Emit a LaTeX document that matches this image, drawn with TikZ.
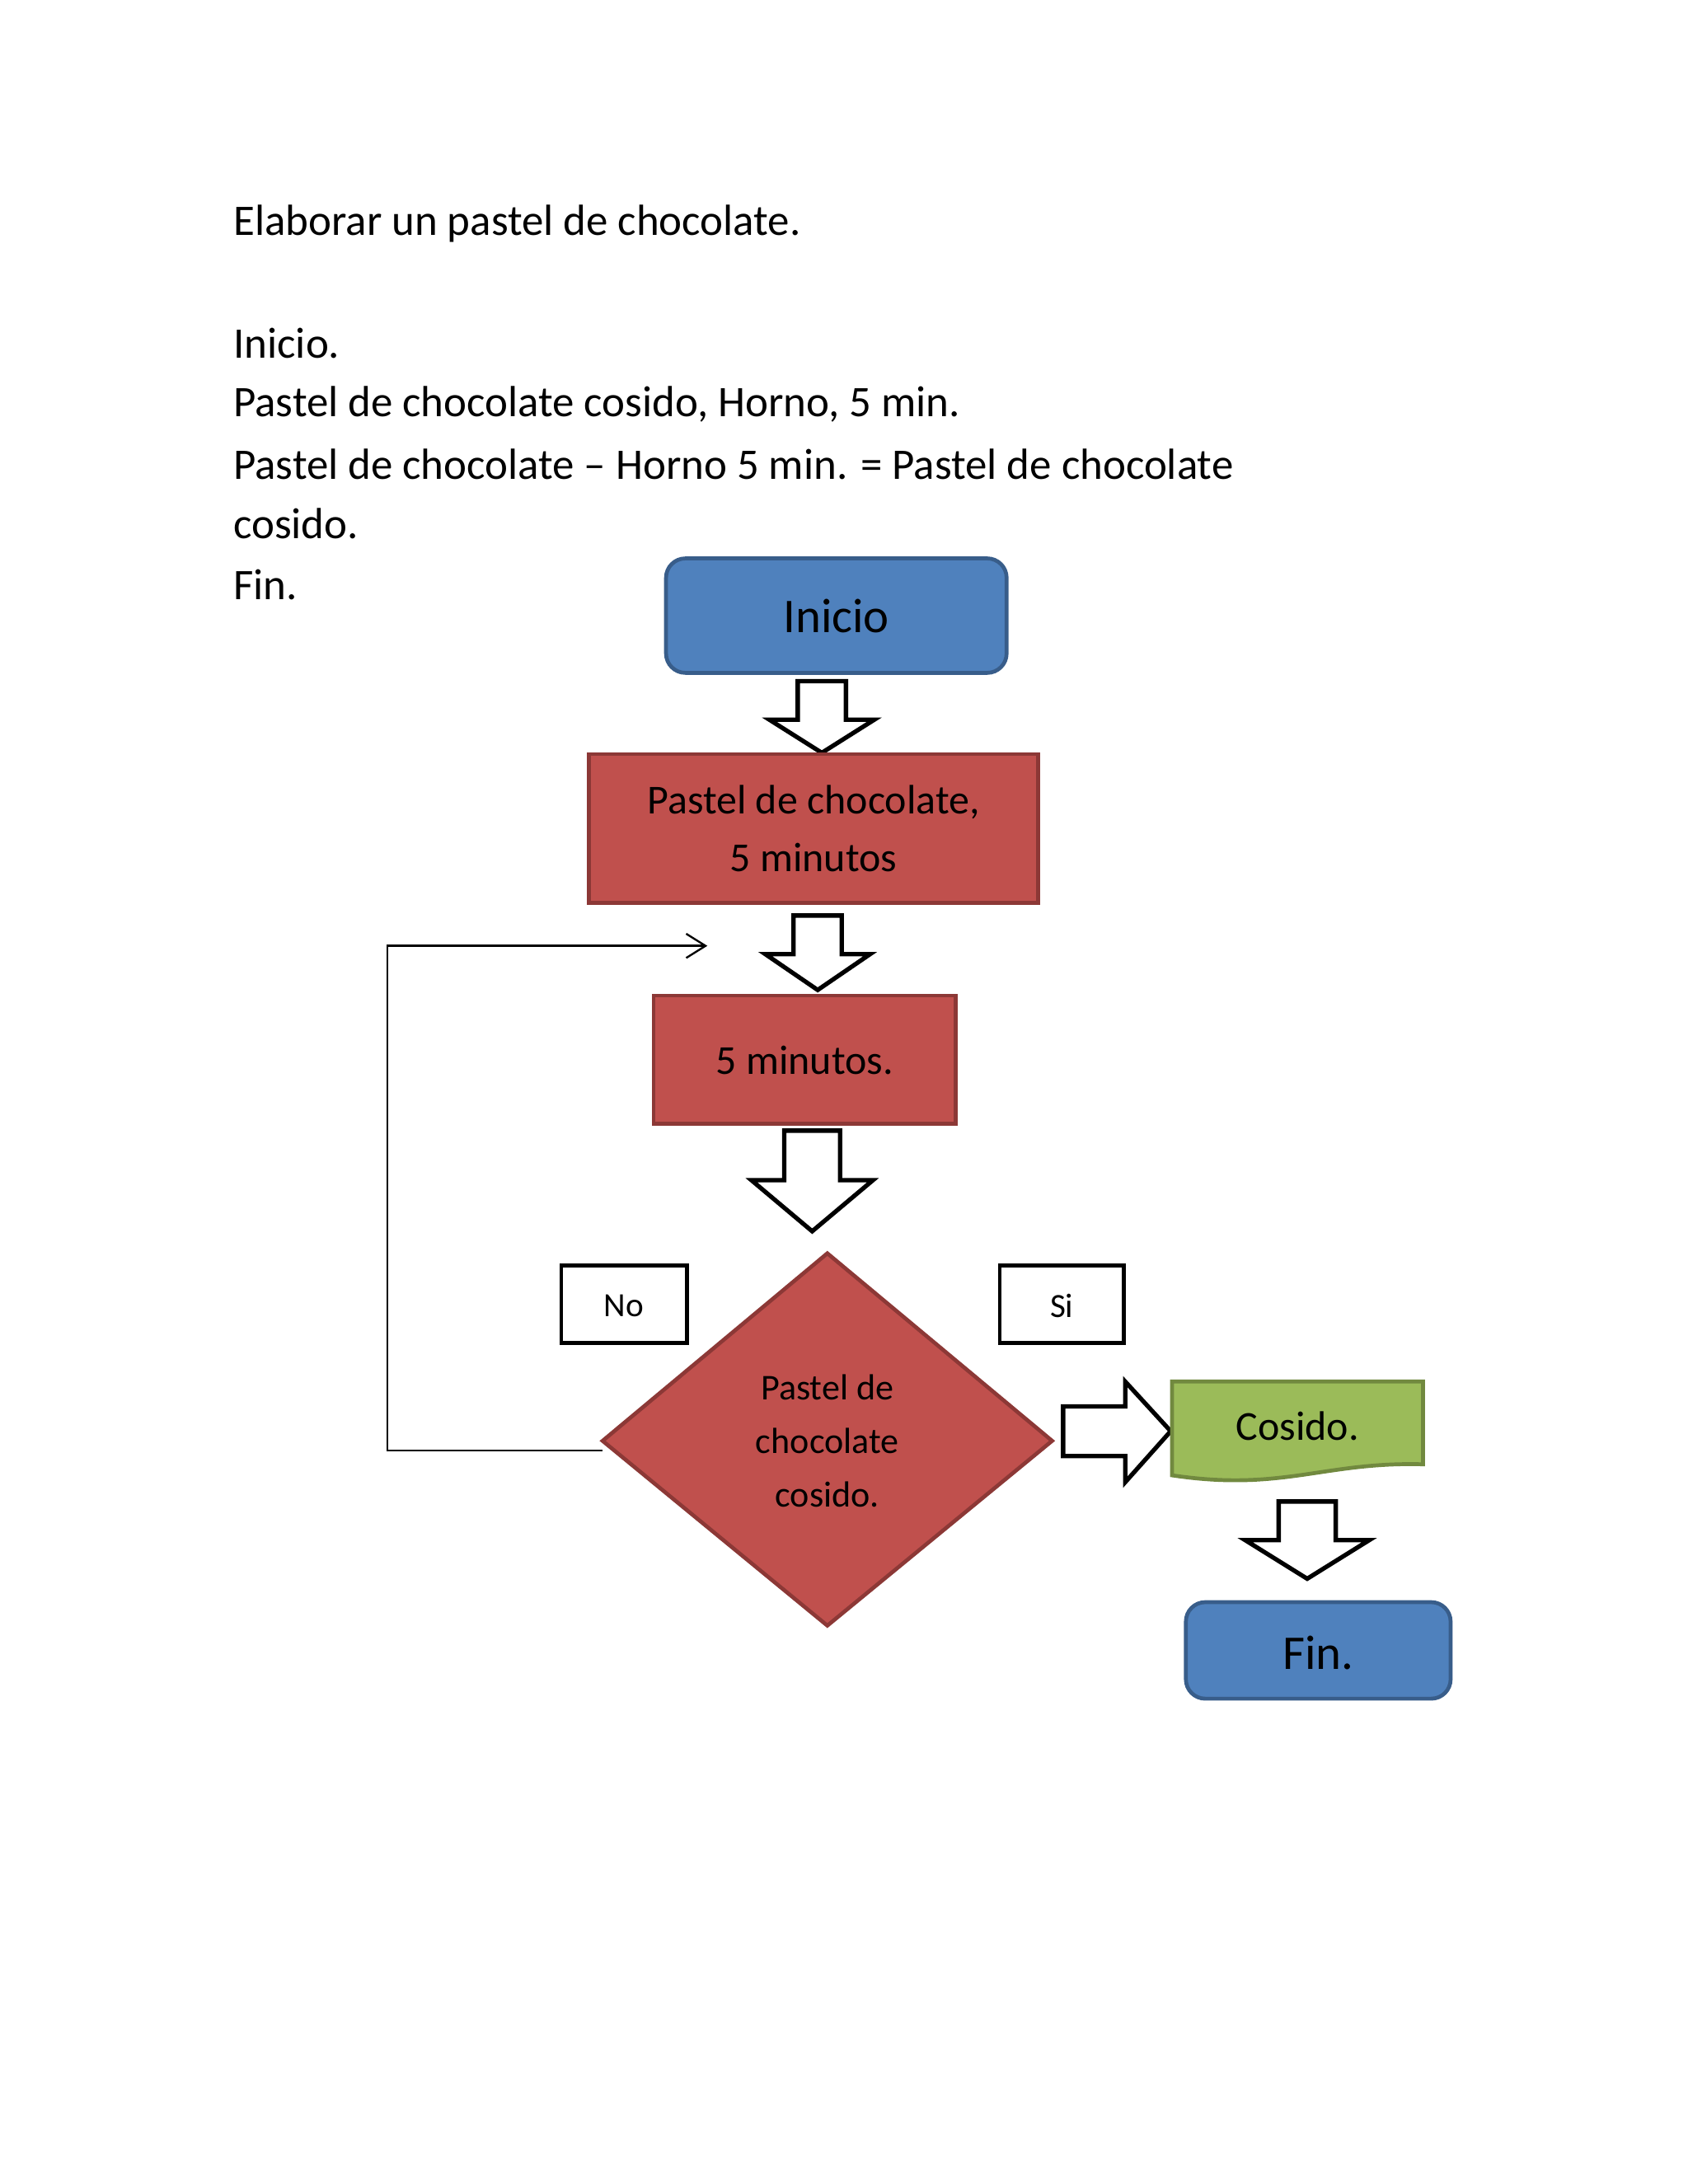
\documentclass[tikz,border=0pt]{standalone}
\usepackage{fontspec}
\setmainfont{Carlito}
\usetikzlibrary{arrows.meta}
\definecolor{bl}{HTML}{4F81BD}\definecolor{blb}{HTML}{385D8A}
\definecolor{rd}{HTML}{C0504D}\definecolor{rdb}{HTML}{8C3836}
\definecolor{gr}{HTML}{9BBB59}\definecolor{grb}{HTML}{71893F}
\tikzset{
 txt/.style={anchor=west,inner sep=0pt,font=\fontsize{18}{22}\selectfont},
 term/.style={draw=blb,fill=bl,line width=1.6pt,rounded corners=8pt},
 proc/.style={draw=rdb,fill=rd,line width=1.6pt},
 blk/.style={draw=black,fill=white,line width=1.8pt,line join=miter},
 lab/.style={draw=black,line width=1.6pt,inner sep=0pt}
}
\newcommand\dnarrow[5]{% x1 x2 ytop yneck ytip
 \draw[blk] ({#1+(#2-#1)*0.27},#3) -- ({#1+(#2-#1)*0.73},#3) -- ({#1+(#2-#1)*0.73},#4) -- (#2,#4) -- ({(#1+#2)/2},#5) -- (#1,#4) -- ({#1+(#2-#1)*0.27},#4) -- cycle;}
\begin{document}
\begin{tikzpicture}[x=0.02cm,y=-0.02cm]
\useasboundingbox[fill=white] (0,0) rectangle (1224,1584);
\node[txt] (t1) at (169,162) {Elaborar un pastel de chocolate.};
\node[txt] (t2) at (169,249) {Inicio.};
\node[txt] (t3) at (169,293) {Pastel de chocolate cosido, Horno, 5 min.};
\node[txt] (t4) at (169,337) {Pastel de chocolate – Horno 5 min. = Pastel de chocolate};
\node[txt] (t5) at (169,380) {cosido.};
\node[txt] (t6) at (169,424) {Fin.};
\draw[term] (483,405) rectangle (730,488);
\node[font=\fontsize{20}{24}\selectfont] (ini) at (606.5,447) {Inicio};
\dnarrow{558}{634}{494}{522}{546}
\draw[proc] (427,547) rectangle (753,655);
\node[font=\fontsize{17}{24}\selectfont,align=center] (p1) at (590,601) {Pastel de chocolate,\\5 minutos};
\dnarrow{555}{631}{664}{692}{718}
\draw[proc] (474,722) rectangle (693,815);
\node[font=\fontsize{17}{20}\selectfont] (p2) at (583.5,769) {5 minutos.};
\dnarrow{545}{633}{820}{856}{893}
\draw[draw=rdb,fill=rd,line width=1.6pt] (437,1045) -- (600,909) -- (763,1045) -- (600,1179) -- cycle;
\node[font=\fontsize{15}{22}\selectfont,align=center] (d) at (600,1045) {Pastel de\\chocolate\\cosido.};
\draw[lab] (407,918) rectangle (498,974);
\node[font=\fontsize{14}{16}\selectfont] (no) at (452.5,947) {No};
\draw[lab] (725,918) rectangle (815,974);
\node[font=\fontsize{14}{16}\selectfont] (si) at (770,947) {Si};
\draw[blk] (771,1020) -- (816,1020) -- (816,1002) -- (849,1038) -- (816,1075) -- (816,1056) -- (771,1056) -- cycle;
\draw[draw=grb,fill=gr,line width=1.6pt] (850,1002) -- (1032,1002) -- (1032,1062) .. controls (960,1060) and (930,1082) .. (850,1070) -- cycle;
\node[font=\fontsize{17}{20}\selectfont] (c) at (941,1034) {Cosido.};
\dnarrow{903}{993}{1089}{1117}{1145}
\draw[term] (860,1162) rectangle (1052,1232);
\node[font=\fontsize{20}{24}\selectfont] (fin) at (956,1199) {Fin.};
\coordinate (a) at (437,1052);
\coordinate (b) at (513,686);
\draw[line width=0.8pt,-{Straight Barb[length=8pt,width=10pt]}] (a) -- (281,1052) -- (281,686) -- (b);
\end{tikzpicture}
\end{document}
